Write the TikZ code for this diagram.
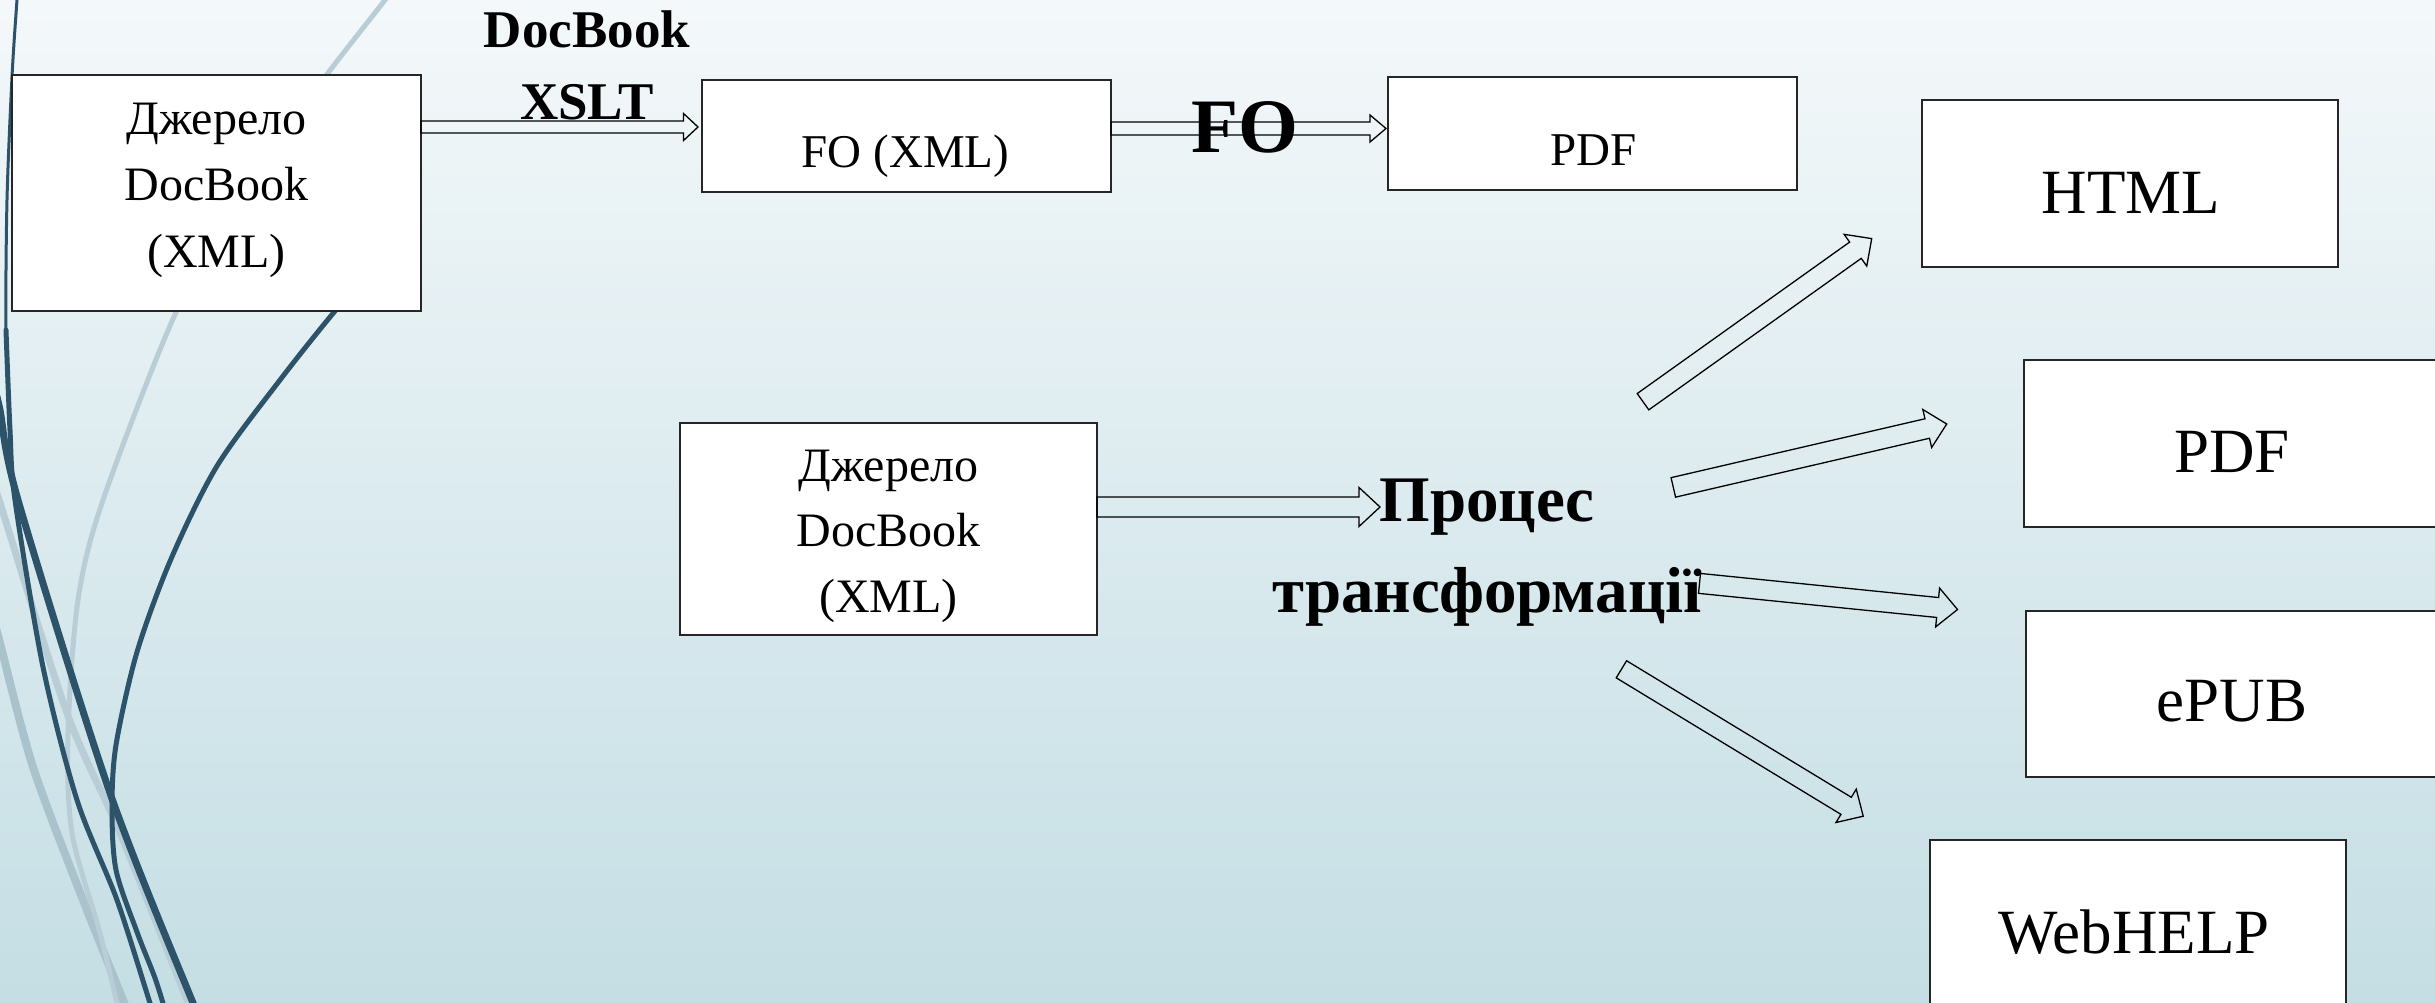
\documentclass[tikz,border=0pt]{standalone}
\usepackage{fontspec}
\setmainfont{Liberation Serif}
\usetikzlibrary{calc}
\definecolor{bgtop}{HTML}{F4F8FA}
\definecolor{bgbot}{HTML}{C4DEE4}
\definecolor{wispdark}{HTML}{2C5369}
\definecolor{wisplight}{HTML}{B8CDD5}
\definecolor{wisplighttwo}{HTML}{AAC2CC}
\tikzset{
  box/.style={draw=black!85, line width=1.8pt, fill=white, inner sep=0pt},
  blockarr/.style={draw=black, line width=1.3pt, line join=miter},
  lbl/.style={inner sep=0pt, anchor=base, font=\fontsize{47}{56}\selectfont},
  biglbl/.style={inner sep=0pt, anchor=base, font=\fontsize{63}{75}\selectfont},
  multi/.style={inner sep=0pt, align=center},
  wisp/.style={line cap=round, line join=round}
}
\newcommand{\blockarrow}[5]{%
  \coordinate (bac) at ($(#2)!#5!(#1)$);
  \draw[blockarr] ($(#1)!#3!90:(#2)$) -- ($(bac)!#3!90:(#2)$) -- ($(bac)!#4!90:(#2)$) -- (#2)
    -- ($(bac)!#4!-90:(#2)$) -- ($(bac)!#3!-90:(#2)$) -- ($(#1)!#3!-90:(#2)$) -- cycle;
}
\begin{document}
\begin{tikzpicture}[x=1pt,y=-1pt]
\useasboundingbox (0,0) rectangle (2435,1003);
\begin{scope}
\clip (0,0) rectangle (2435,1003);
\shade[top color=bgtop, bottom color=bgbot] (0,0) rectangle (2435,1003);
% background wisps
\draw[wisp, wisplighttwo, line width=8pt] plot[smooth] coordinates {(-5,625) (0,643) (33,767) (83,900) (123,1000) (126,1010)};
\draw[wisp, wisplight, line width=7pt] plot[smooth] coordinates {(-5,488) (0,503) (67,713) (120,833) (187,1000) (190,1010)};
\draw[wisp, wisplight, line width=5pt] plot[smooth] coordinates {(390,-8) (385,0) (325,77) (250,180) (177,310) (103,500) (78,600) (68,733) (72,833) (100,933) (117,1003) (120,1010)};
\draw[wisp, wispdark, line width=3pt] plot[smooth] coordinates {(18,-8) (17,0) (12,77) (7,200) (6,330) (10,430)};
\draw[wisp, wispdark, line width=5pt] plot[smooth] coordinates {(6,330) (10,430) (15,500) (43,667) (77,800) (117,900) (150,1003) (153,1010)};
\draw[wisp, wispdark, line width=7pt] plot[smooth] coordinates {(-5,390) (0,410) (18,500) (110,793) (193,1003) (197,1010)};
\draw[wisp, wispdark, line width=5pt] plot[smooth] coordinates {(380,260) (335,311) (280,380) (217,466) (171,559) (137,652) (116,745) (112,808) (116,870) (137,932) (155,978) (165,1010)};
% boxes
\node[box, minimum width=409pt, minimum height=236pt] (A) at (216.5,193) {};
\node[box, minimum width=409pt, minimum height=112pt] (FO) at (906.5,136) {};
\node[box, minimum width=409pt, minimum height=113pt] (PDFa) at (1592.5,133.5) {};
\node[box, minimum width=417pt, minimum height=212pt] (B) at (888.5,529) {};
\node[box, minimum width=416pt, minimum height=167pt] (HTML) at (2130,183.5) {};
\node[box, minimum width=416pt, minimum height=167pt] (PDFb) at (2232,443.5) {};
\node[box, minimum width=416pt, minimum height=166pt] (EPUB) at (2234,694) {};
\node[box, minimum width=416pt, minimum height=167pt] (WEB) at (2138,923.5) {};
% arrow ends
\coordinate (a1s) at (421,127);
\coordinate (a1e) at (698,127);
\coordinate (a2s) at (1111,128.5);
\coordinate (a2e) at (1386,128.5);
\coordinate (a3s) at (1097,507);
\coordinate (a3e) at (1380,507);
\coordinate (a4s) at (1643,401.7);
\coordinate (a4e) at (1871.7,238.6);
\coordinate (a5s) at (1673.3,487.4);
\coordinate (a5e) at (1946.7,424);
\coordinate (a6s) at (1699.5,583.4);
\coordinate (a6e) at (1957.5,609.5);
\coordinate (a7s) at (1621.4,669.3);
\coordinate (a7e) at (1863.2,816.2);
\blockarrow{a1s}{a1e}{6pt}{13.5pt}{14.5pt}
\blockarrow{a2s}{a2e}{6.5pt}{13.5pt}{16pt}
\blockarrow{a3s}{a3e}{10pt}{19.5pt}{21pt}
\blockarrow{a4s}{a4e}{10pt}{19.5pt}{20pt}
\blockarrow{a5s}{a5e}{10pt}{19.5pt}{20pt}
\blockarrow{a6s}{a6e}{10pt}{19.5pt}{20pt}
\blockarrow{a7s}{a7e}{10pt}{19.5pt}{20pt}
% texts
\node[multi, font=\fontsize{48}{66.5}\selectfont] (tA) at (216.5,190) {Джерело\\DocBook\\(XML)};
\node[multi, font=\fontsize{48}{65.5}\selectfont] (tB) at (888.5,536) {Джерело\\DocBook\\(XML)};
\node[multi, font=\fontsize{53}{72}\selectfont\bfseries] (tXSLT) at (587,65) {DocBook\\XSLT};
\node[multi, font=\fontsize{65}{91}\selectfont\bfseries] (tProc) at (1487,553) {Процес\\трансформації};
\node[inner sep=0pt, anchor=base, font=\fontsize{77}{90}\selectfont\bfseries] (tFOlab) at (1245,153) {FO};
\node[lbl] (tFO) at (905.5,168) {FO (XML)};
\node[lbl] (tPDFa) at (1593.5,166) {PDF};
\node[biglbl] (tHTML) at (2131,213) {HTML};
\node[biglbl] (tPDFb) at (2232,472) {PDF};
\node[biglbl] (tEPUB) at (2232,721) {ePUB};
\node[biglbl] (tWEB) at (2134,953) {WebHELP};
\end{scope}
\end{tikzpicture}
\end{document}
